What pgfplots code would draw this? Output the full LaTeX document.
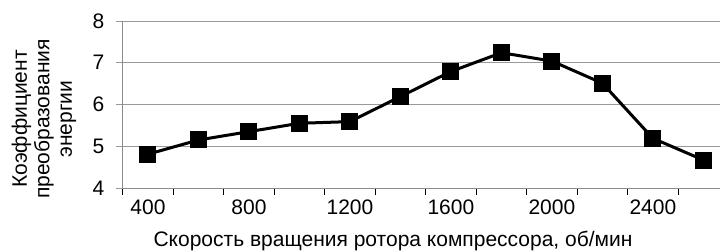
\documentclass[border=0pt]{standalone}
\usepackage{pgfplots}
\pgfplotsset{compat=1.18}
\usepackage{fontspec}
\setmainfont{Liberation Sans}
\begin{document}
\begin{tikzpicture}
\useasboundingbox (0,0) rectangle (720pt,251pt);
\begin{axis}[
  at={(122.75pt,63pt)}, anchor=south west,
  scale only axis, width=597.25pt, height=167pt,
  xmin=0.5, xmax=12.33, ymin=4, ymax=8,
  axis x line*=bottom, axis y line*=left,
  axis line style={draw=black!45, line width=0.9pt},
  ytick={4,5,6,7,8}, ymajorgrids,
  grid style={draw=black!40, line width=0.9pt},
  xtick={0.5,1.5,...,11.5}, xticklabels={},
  extra x ticks={1,3,5,7,9,11},
  extra x tick labels={400,800,1200,1600,2000,2400},
  extra x tick style={major tick length=0pt, grid=none},
  tick align=outside, major tick length=7pt,
  x tick style={draw=black, line width=1.2pt},
  y tick style={draw=black!40, line width=0.9pt},
  tick label style={font=\fontsize{21}{23}\selectfont},
  /pgf/number format/assume math mode=true,
  xticklabel style={anchor=north, yshift=-8pt},
  yticklabel style={anchor=east, xshift=-8pt},
  xlabel={Скорость вращения ротора компрессора, об/мин},
  xlabel style={font=\fontsize{21}{23}\selectfont, at={(axis description cs:0.4525,0)}, anchor=base, yshift=-59pt},
  ylabel={Коэффициент\\преобразования\\энергии},
  ylabel style={font=\fontsize{21}{22.5}\selectfont, align=center, at={(axis description cs:-0.1319,0.413)}, anchor=center},
  clip=false,
]
\addplot[black, line width=3pt, mark=square*, mark size=8pt, mark options={line width=1pt}]
coordinates {
(1,4.81) (2,5.15) (3,5.35) (4,5.55) (5,5.59) (6,6.19)
(7,6.79) (8,7.24) (9,7.04) (10,6.51) (11,5.19) (12,4.67)
};
\end{axis}
\end{tikzpicture}
\end{document}
